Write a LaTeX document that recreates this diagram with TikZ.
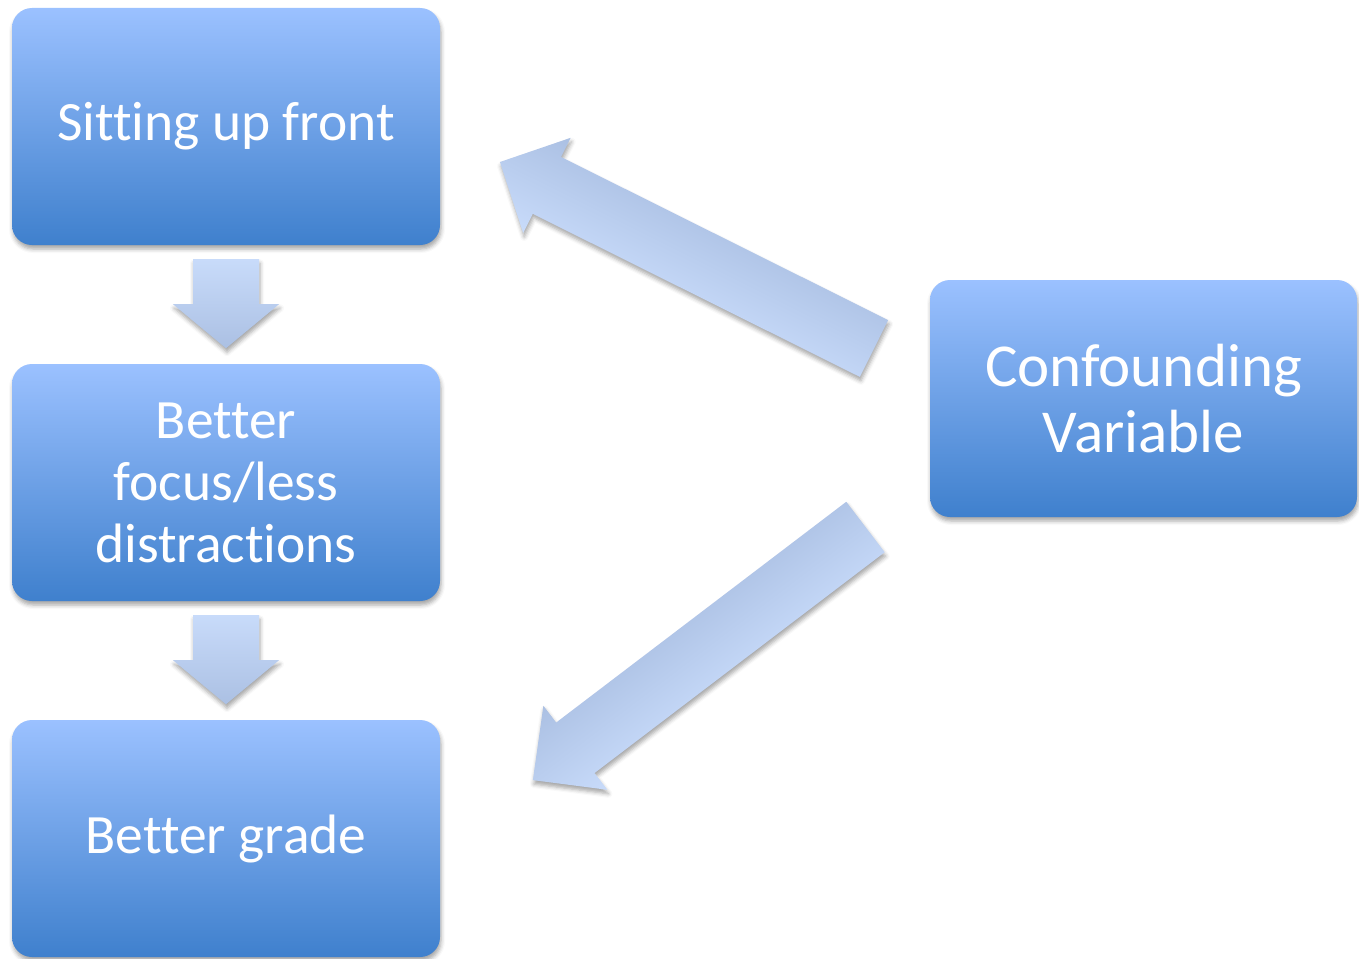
\documentclass[tikz,border=0pt]{standalone}
\usepackage{fontspec}
\setmainfont{Carlito}[Ligatures=NoCommon]
\usetikzlibrary{shadows.blur}
\definecolor{boxtop}{HTML}{9BC1FF}
\definecolor{boxmid}{HTML}{80ABEE}
\definecolor{boxbot}{HTML}{3F80CD}
\definecolor{arrlight}{HTML}{C8DBFA}
\definecolor{arrdark}{HTML}{ABC0E3}
\begin{document}
\begin{tikzpicture}[x=1pt,y=1pt,
  softshadow/.style={blur shadow={shadow xshift=1pt, shadow yshift=-4pt,
      shadow blur radius=4pt, shadow opacity=35}},
  stepbox/.style={rounded corners=20pt, minimum width=428pt, minimum height=237pt,
      inner sep=0pt, align=center, text=white,
      top color=boxtop, middle color=boxmid, bottom color=boxbot,
      font=\fontsize{55.5}{62}\selectfont, softshadow},
  downarrow/.style={top color=arrlight, bottom color=arrdark, softshadow},
  % long arrows are drawn in their own frame: tail centre at the origin,
  % pointing along +x, so the shading runs across the shaft
  longarrow/.style 2 args={top color=arrlight, bottom color=arrdark,
      blur shadow={shadow xshift=#1, shadow yshift=#2,
      shadow blur radius=4pt, shadow opacity=35}}]
  \useasboundingbox (0,0) rectangle (1359,-958);

  % the four boxes
  \node[stepbox] (front) at (226,-126.5) {Sitting up front};
  \node[stepbox] (focus) at (226,-482.5) {Better\\focus/less\\distractions};
  \node[stepbox] (grade) at (226,-838.5) {Better grade};
  \node[stepbox, minimum width=427pt, font=\fontsize{61}{66}\selectfont]
    (conf) at (1143.5,-398.5) {Confounding\\Variable};

  % vertical block arrows between the stacked boxes
  \begin{scope}[shift={(front.south)}]
    \shade[downarrow] (-33,-14) -- (33,-14) -- (33,-59) -- (53,-59) -- (0,-103)
      -- (-53,-59) -- (-33,-59) -- cycle;
  \end{scope}
  \begin{scope}[shift={(focus.south)}]
    \shade[downarrow] (-33,-14) -- (33,-14) -- (33,-59) -- (53,-59) -- (0,-103)
      -- (-53,-59) -- (-33,-59) -- cycle;
  \end{scope}

  % diagonal block arrows from the confounding variable
  \coordinate (upTail) at (874,-348.5);
  \coordinate (downTail) at (865.5,-527);
  \begin{scope}[transform canvas={shift={(upTail)}, rotate=153.5}]
    \shade[longarrow={-2.7pt}{3.1pt}]
      (0,-31.75) -- (365.5,-31.75) -- (365.5,-53.2) -- (418,0)
      -- (365.5,53.2) -- (365.5,31.75) -- (0,31.75) -- cycle;
  \end{scope}
  \begin{scope}[transform canvas={shift={(downTail)}, rotate=217.27}]
    \shade[longarrow={1.6pt}{3.8pt}]
      (0,-31.7) -- (364.6,-31.7) -- (364.6,-52.8) -- (418,0)
      -- (364.6,52.8) -- (364.6,31.7) -- (0,31.7) -- cycle;
  \end{scope}
\end{tikzpicture}
\end{document}
